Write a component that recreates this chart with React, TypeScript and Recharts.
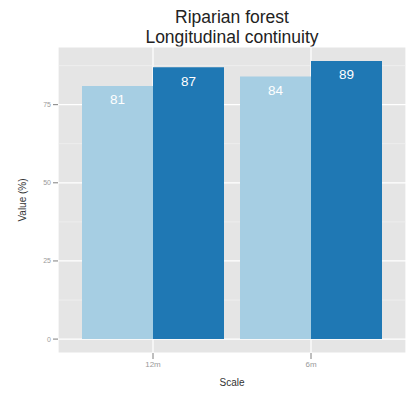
import { BarChart, Bar, XAxis, YAxis, CartesianGrid, LabelList, Label } from 'recharts';

// categories along x and the two bar series (light / dark blue)
const scales = ['12m', '6m'];
const lightValues = [81, 84];
const darkValues = [87, 89];
const yTicks = [0, 25, 50, 75];
const minorTicks = [12.5, 37.5, 62.5, 87.5];

const chartData = scales.map((s, i) => ({ scale: s, light: lightValues[i], dark: darkValues[i] }));

const font = '"Liberation Sans", Arial, Helvetica, sans-serif';

const App = () => {
  return (
    <div style={{ position: 'fixed', left: 0, top: 0, width: 414, height: 397, background: '#fff', fontFamily: font }}>
      <div
        style={{
          position: 'absolute',
          left: 58,
          width: 348,
          top: 7,
          textAlign: 'center',
          fontSize: 17.5,
          lineHeight: '20px',
          color: '#222',
        }}
      >
        Riparian forest
        <br />
        Longitudinal continuity
      </div>
      <BarChart
        width={414}
        height={397}
        data={chartData}
        margin={{ top: 47, right: 8, bottom: 14, left: 28 }}
        barCategoryGap={8}
        barGap={0}
      >
        <CartesianGrid fill="#e5e5e5" stroke="#ffffff" strokeWidth={1.2} />
        {/* thinner minor lines, ggplot-style */}
        <CartesianGrid fill="none" vertical={false} horizontalValues={minorTicks} stroke="#f3f3f3" strokeWidth={0.6} />
        <XAxis
          dataKey="scale"
          padding={{ left: 16, right: 16 }}
          height={30}
          tickSize={6}
          axisLine={false}
          tickLine={{ stroke: '#7f7f7f' }}
          tick={{ fill: '#9a9a9a', fontSize: 8, fontFamily: font }}
        >
          <Label value="Scale" position="insideBottom" offset={-3} fill="#333" fontSize={10} fontFamily={font} />
        </XAxis>
        <YAxis
          type="number"
          domain={[-4.45, 93.45]}
          ticks={yTicks}
          width={30}
          tickSize={5}
          axisLine={false}
          tickLine={{ stroke: '#7f7f7f' }}
          tick={{ fill: '#9a9a9a', fontSize: 7, fontFamily: font }}
          allowDataOverflow
        >
          <Label value="Value (%)" angle={-90} position="insideLeft" offset={-6} fill="#333" fontSize={10} fontFamily={font} style={{ textAnchor: 'middle' }} />
        </YAxis>
        <Bar dataKey="light" fill="#a6cee3" isAnimationActive={false}>
          <LabelList dataKey="light" position="insideTop" offset={9} fill="#ffffff" fontSize={13.5} fontFamily={font} />
        </Bar>
        <Bar dataKey="dark" fill="#1f78b4" isAnimationActive={false}>
          <LabelList dataKey="dark" position="insideTop" offset={9} fill="#ffffff" fontSize={13.5} fontFamily={font} />
        </Bar>
      </BarChart>
    </div>
  );
};

export default App;
